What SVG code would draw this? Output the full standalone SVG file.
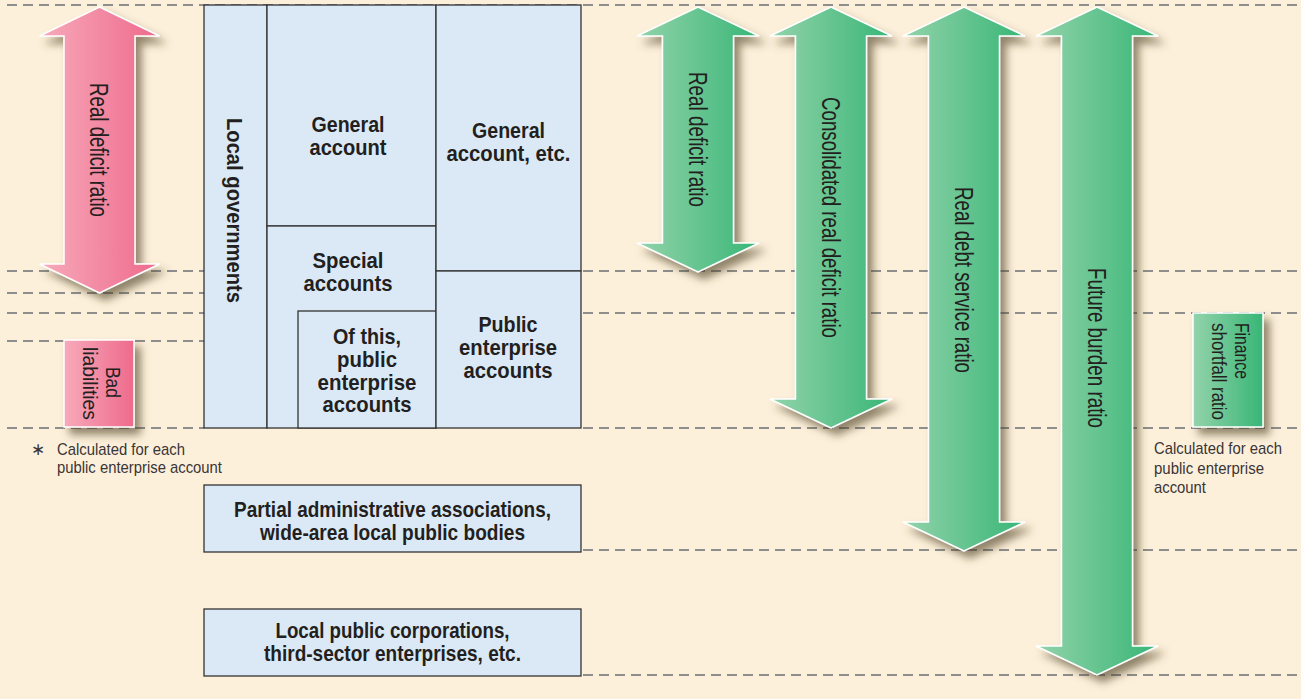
<svg xmlns="http://www.w3.org/2000/svg" width="1301" height="699" viewBox="0 0 1301 699">
<defs>
<style>
.dash{stroke:#8e8e8e;stroke-width:2.2;stroke-dasharray:10 6;fill:none}
.box{fill:#dbe9f6;stroke:#333;stroke-width:1.3}
.b{font-family:"Liberation Sans",Arial,sans-serif;font-weight:bold;font-size:22px;fill:#231f20;text-anchor:middle}
.r{font-family:"Liberation Sans",Arial,sans-serif;font-size:25px;fill:#231f20;text-anchor:middle}
.s{font-family:"Liberation Sans",Arial,sans-serif;font-size:21px;fill:#231f20}
.n{font-family:"Liberation Sans",Arial,sans-serif;font-size:17px;fill:#3a3536}
.pink{fill:url(#gp);stroke:#fff;stroke-width:1.5;filter:url(#sh)}
.green{fill:url(#gg);stroke:#fff;stroke-width:1.5;filter:url(#sh)}
</style>
<linearGradient id="gp" x1="0" y1="0" x2="1" y2="0">
<stop offset="0" stop-color="#f7aabb"/>
<stop offset="1" stop-color="#ee6a8b"/>
</linearGradient>
<linearGradient id="gg" x1="0" y1="0" x2="1" y2="0">
<stop offset="0" stop-color="#93d3ab"/>
<stop offset="1" stop-color="#38b676"/>
</linearGradient>
<filter id="sh" x="-30%" y="-10%" width="160%" height="130%">
<feDropShadow dx="6" dy="7" stdDeviation="4.5" flood-color="#4a3a20" flood-opacity="0.6"/>
</filter>
</defs>
<rect x="0" y="0" width="1301" height="699" fill="#fdf0db"/>

<g id="guides">
<line class="dash" x1="7" y1="5" x2="1301" y2="5"/>
<line class="dash" x1="7" y1="271" x2="204" y2="271"/>
<line class="dash" x1="7" y1="293" x2="204" y2="293"/>
<line class="dash" x1="7" y1="313" x2="204" y2="313"/>
<line class="dash" x1="7" y1="341" x2="204" y2="341"/>
<line class="dash" x1="7" y1="428" x2="204" y2="428"/>
<line class="dash" x1="583" y1="271" x2="1301" y2="271"/>
<line class="dash" x1="583" y1="313" x2="1301" y2="313"/>
<line class="dash" x1="583" y1="428" x2="1301" y2="428"/>
<line class="dash" x1="583" y1="550" x2="1301" y2="550"/>
<line class="dash" x1="583" y1="675" x2="1301" y2="675"/>
</g>

<g id="local-governments">
<rect class="box" x="204" y="5" width="63" height="423"/>
<text class="b" font-size="25" transform="translate(226.5,210.5) rotate(90)" textLength="185" lengthAdjust="spacingAndGlyphs">Local governments</text>
</g>
<g id="general-account">
<rect class="box" x="267" y="5" width="169" height="221"/>
<text class="b" x="348" y="132" textLength="73" lengthAdjust="spacingAndGlyphs">General</text>
<text class="b" x="348" y="154.5" textLength="77" lengthAdjust="spacingAndGlyphs">account</text>
</g>
<g id="special-accounts">
<rect class="box" x="267" y="226" width="169" height="202"/>
<text class="b" x="348" y="268" textLength="71" lengthAdjust="spacingAndGlyphs">Special</text>
<text class="b" x="348" y="291" textLength="89" lengthAdjust="spacingAndGlyphs">accounts</text>
</g>
<g id="of-this">
<rect class="box" x="298" y="311" width="138" height="117"/>
<text class="b" x="367" y="344" textLength="68" lengthAdjust="spacingAndGlyphs">Of this,</text>
<text class="b" x="367" y="367" textLength="60" lengthAdjust="spacingAndGlyphs">public</text>
<text class="b" x="367" y="389.5" textLength="99" lengthAdjust="spacingAndGlyphs">enterprise</text>
<text class="b" x="367" y="412" textLength="89" lengthAdjust="spacingAndGlyphs">accounts</text>
</g>
<g id="general-account-etc">
<rect class="box" x="436" y="5" width="145" height="266"/>
<text class="b" x="508.5" y="138" textLength="73" lengthAdjust="spacingAndGlyphs">General</text>
<text class="b" x="508.5" y="161" textLength="124" lengthAdjust="spacingAndGlyphs">account, etc.</text>
</g>
<g id="public-enterprise-accounts">
<rect class="box" x="436" y="271" width="145" height="157"/>
<text class="b" x="508" y="332" textLength="59" lengthAdjust="spacingAndGlyphs">Public</text>
<text class="b" x="508" y="355" textLength="98" lengthAdjust="spacingAndGlyphs">enterprise</text>
<text class="b" x="508" y="378" textLength="89" lengthAdjust="spacingAndGlyphs">accounts</text>
</g>
<g id="partial-admin">
<rect class="box" x="204" y="485" width="377" height="67"/>
<text class="b" x="392.5" y="517" textLength="317" lengthAdjust="spacingAndGlyphs">Partial administrative associations,</text>
<text class="b" x="392.5" y="540" textLength="265" lengthAdjust="spacingAndGlyphs">wide-area local public bodies</text>
</g>
<g id="local-public-corp">
<rect class="box" x="204" y="609" width="377" height="67"/>
<text class="b" x="392.5" y="638" textLength="234" lengthAdjust="spacingAndGlyphs">Local public corporations,</text>
<text class="b" x="392.5" y="661" textLength="257" lengthAdjust="spacingAndGlyphs">third-sector enterprises, etc.</text>
</g>

<g id="arrow-real-deficit-pink">
<path class="pink" d="M99.5,7 L159.5,36 L135,36 L135,264 L159.5,264 L99.5,293 L39.5,264 L64,264 L64,36 L39.5,36 Z"/>
<text class="r" transform="translate(90,150) rotate(90)" textLength="134" lengthAdjust="spacingAndGlyphs">Real deficit ratio</text>
</g>
<g id="bad-liabilities">
<rect class="pink" x="64" y="340" width="70" height="87"/>
<text class="s" text-anchor="middle" transform="translate(106,382.5) rotate(90)" textLength="31" lengthAdjust="spacingAndGlyphs">Bad</text>
<text class="s" text-anchor="middle" transform="translate(83,383.5) rotate(90)" textLength="73" lengthAdjust="spacingAndGlyphs">liabilities</text>
</g>
<g id="arrow-real-deficit">
<path class="green" d="M698,7 L759,36 L733.5,36 L733.5,243 L759,243 L698,272 L637,243 L662.5,243 L662.5,36 L637,36 Z"/>
<text class="r" transform="translate(689,139.5) rotate(90)" textLength="135" lengthAdjust="spacingAndGlyphs">Real deficit ratio</text>
</g>
<g id="arrow-consolidated">
<path class="green" d="M831,7 L892,36 L866.5,36 L866.5,399 L892,399 L831,428 L770,399 L795.5,399 L795.5,36 L770,36 Z"/>
<text class="r" transform="translate(822,217.5) rotate(90)" textLength="241" lengthAdjust="spacingAndGlyphs">Consolidated real deficit ratio</text>
</g>
<g id="arrow-debt-service">
<path class="green" d="M964,7 L1025,36 L999.5,36 L999.5,522 L1025,522 L964,551 L903,522 L928.5,522 L928.5,36 L903,36 Z"/>
<text class="r" transform="translate(955,280) rotate(90)" textLength="186" lengthAdjust="spacingAndGlyphs">Real debt service ratio</text>
</g>
<g id="arrow-future-burden">
<path class="green" d="M1097,7 L1158,36 L1132.5,36 L1132.5,646 L1158,646 L1097,675 L1036,646 L1061.5,646 L1061.5,36 L1036,36 Z"/>
<text class="r" transform="translate(1088,348) rotate(90)" textLength="160" lengthAdjust="spacingAndGlyphs">Future burden ratio</text>
</g>
<g id="finance-shortfall">
<rect class="green" x="1193" y="313" width="70" height="114"/>
<text class="s" transform="translate(1235,323) rotate(90)" textLength="56" lengthAdjust="spacingAndGlyphs">Finance</text>
<text class="s" transform="translate(1212,323) rotate(90)" textLength="97" lengthAdjust="spacingAndGlyphs">shortfall ratio</text>
</g>

<g id="notes">
<text class="n" x="30.5" y="455" font-size="36" font-family="'DejaVu Sans',sans-serif">∗</text>
<text class="n" x="57" y="455" textLength="128" lengthAdjust="spacingAndGlyphs">Calculated for each</text>
<text class="n" x="57" y="473" textLength="165" lengthAdjust="spacingAndGlyphs">public enterprise account</text>
<text class="n" x="1154" y="454" textLength="128" lengthAdjust="spacingAndGlyphs">Calculated for each</text>
<text class="n" x="1154" y="474" textLength="110" lengthAdjust="spacingAndGlyphs">public enterprise</text>
<text class="n" x="1154" y="493" textLength="52" lengthAdjust="spacingAndGlyphs">account</text>
</g>
</svg>
